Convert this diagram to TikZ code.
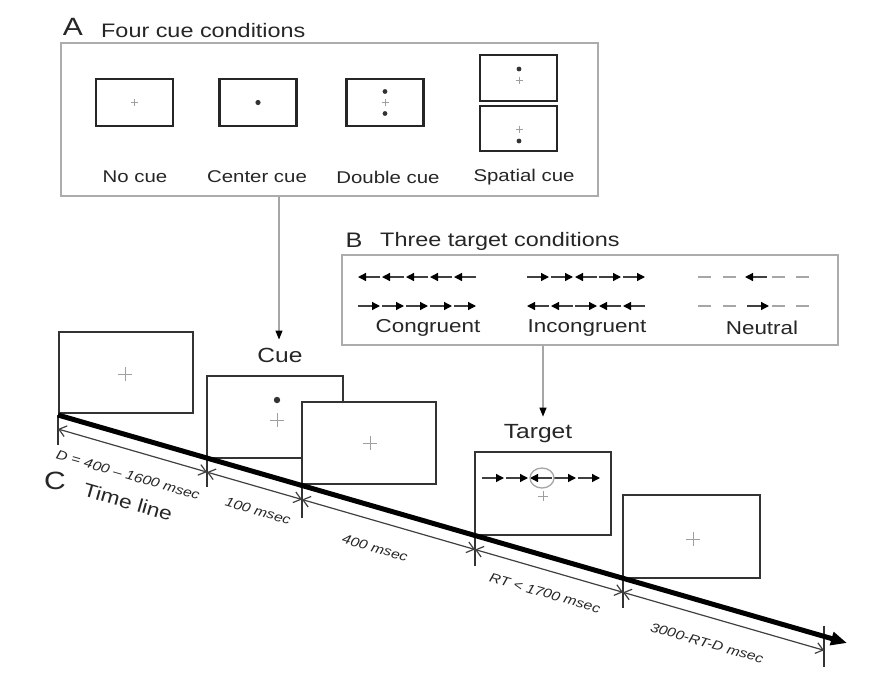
\documentclass[tikz,border=0pt]{standalone}
\usepackage{fontspec}
\setmainfont{Liberation Sans}[FakeStretch=1.2]
\usetikzlibrary{arrows.meta,calc}
\newcommand\myfs[1]{\fontsize{#1}{#1}\selectfont}
\newcommand\flR[2]{\draw[flk] (#1,#2) -- ++(22,0);}
\newcommand\flL[2]{\draw[flk] (#1+22,#2) -- ++(-22,0);}
\newcommand\flD[2]{\draw[dsh] (#1,#2) -- ++(13,0);}
\newcommand\plusat[2]{\draw[crs] (#1) +(-#2,0) -- +(#2,0) +(0,-#2) -- +(0,#2);}
\begin{document}
\begin{tikzpicture}[x=1pt,y=-1pt,
  lbl/.style={inner sep=0pt, text=black!85},
  boxst/.style={draw=gray!65, line width=1.4pt, inner sep=0pt},
  mini/.style={draw=black!85, line width=2.2pt, inner sep=0pt, minimum width=77pt},
  frm/.style={draw=black!80, line width=1.8pt, fill=white, inner sep=0pt},
  crs/.style={draw=gray!75, line width=0.9pt},
  flk/.style={draw=black!75, line width=1.3pt, -{Triangle[length=8pt,width=8pt,color=black]}},
  dsh/.style={draw=gray!70, line width=1.8pt},
  conn/.style={draw=gray!70, line width=1.2pt, -{Triangle[length=9pt,width=7pt,color=black]}},
  tl/.style={draw=black, line width=5pt, -{Triangle[length=16pt,width=13pt]}},
  tick/.style={draw=black!80, line width=1.6pt},
  dim/.style={draw=black!75, line width=1.2pt, {Straight Barb[length=7pt,width=11pt]}-{Straight Barb[length=7pt,width=11pt]}},
  dlab/.style={lbl, font=\myfs{13}\itshape, rotate=-16.12}
]
\useasboundingbox (0,0) rectangle (894,673);
\fill[white] (0,0) rectangle (894,673);

% ---------------- Panel A
\node[lbl, font=\myfs{25}] (Alet) at (73,27) {A};
\node[lbl, font=\myfs{19.5}, anchor=west] (Atit) at (101,31) {Four cue conditions};
\node[boxst, minimum width=537pt, minimum height=153pt] (boxA) at (329.5,119.5) {};
\node[mini, minimum height=47pt] (nocue) at (134.5,102.5) {};
\node[mini, minimum height=47pt] (ccue) at (258,102.5) {};
\node[mini, minimum height=47pt] (dcue) at (385,102.5) {};
\node[mini, minimum height=46pt] (scueA) at (518.5,78) {};
\node[mini, minimum height=45pt] (scueB) at (518.5,128.5) {};
\plusat{nocue.center}{3.5}
\fill[black!80] (ccue.center) circle (2.6pt);
\plusat{dcue.center}{3.5}
\fill[black!80] ($(dcue.center)+(0,-11)$) circle (2.4pt);
\fill[black!80] ($(dcue.center)+(0,11)$) circle (2.4pt);
\fill[black!80] (519,69) circle (2.4pt);
\plusat{519,80}{3.5}
\plusat{519,129}{3.5}
\fill[black!80] (519,141) circle (2.4pt);
\node[lbl, font=\myfs{17}] (lnocue) at (135,177) {No cue};
\node[lbl, font=\myfs{17}] (lccue) at (257,177) {Center cue};
\node[lbl, font=\myfs{17}] (ldcue) at (388,177) {Double cue};
\node[lbl, font=\myfs{17}] (lscue) at (524,177) {Spatial cue};

% ---------------- Panel B
\node[lbl, font=\myfs{21}] (Blet) at (354,240) {B};
\node[lbl, font=\myfs{19.5}, anchor=west] (Btit) at (380,241) {Three target conditions};
\node[boxst, minimum width=496pt, minimum height=90pt] (boxB) at (590,300) {};
\foreach \i in {0,...,4} {\flL{358+24*\i}{277}}
\foreach \i in {0,...,4} {\flR{358+24*\i}{306}}
\flR{527}{277}\flR{551}{277}\flL{575}{277}\flR{599}{277}\flR{623}{277}
\flL{527}{306}\flL{551}{306}\flR{575}{306}\flL{599}{306}\flL{623}{306}
\flD{698}{277}\flD{722.5}{277}\flL{745}{277}\flD{771.5}{277}\flD{796}{277}
\flD{698}{306}\flD{722.5}{306}\flR{747}{306}\flD{771.5}{306}\flD{796}{306}
\node[lbl, font=\myfs{18.7}] (lcong) at (428,328) {Congruent};
\node[lbl, font=\myfs{18.7}] (lincong) at (587,328) {Incongruent};
\node[lbl, font=\myfs{18.7}] (lneut) at (762,328) {Neutral};

% ---------------- Panel C: frames
\node[frm, minimum width=134pt, minimum height=81pt] (f1) at (126,372.5) {};
\node[frm, minimum width=136pt, minimum height=82pt] (cuef) at (275,417) {};
\node[frm, minimum width=134pt, minimum height=82pt] (f3) at (369,443) {};
\node[frm, minimum width=136pt, minimum height=83pt] (tgtf) at (543,493.5) {};
\node[frm, minimum width=137pt, minimum height=83pt] (f5) at (691.5,536.5) {};
\plusat{125,374}{7}
\fill[black!80] (277,400) circle (3.2pt);
\plusat{277,420}{7}
\plusat{370,443}{7}
\plusat{543,496}{5}
\plusat{693,539}{7}
\flR{482}{478}\flR{506}{478}\flL{530}{478}\flR{554}{478}\flR{578}{478}
\draw[draw=gray!70, line width=1.3pt] (542,478) ellipse (12pt and 10pt);

\node[lbl, font=\myfs{20.5}] (cuelbl) at (280,355) {Cue};
\node[lbl, font=\myfs{20.5}] (tgtlbl) at (538,434) {Target};

% connectors from panels
\coordinate (cuein) at ([xshift=-1pt,yshift=8pt]cuelbl.north);
\coordinate (tgtin) at ([xshift=5pt,yshift=8pt]tgtlbl.north);
\draw[conn] (boxA.south -| cuein) -- (cuein);
\draw[conn] (boxB.south -| tgtin) -- (tgtin);

% ---------------- time line
\coordinate (p0) at (58,415);
\coordinate (p1) at (207,458.1);
\coordinate (p2) at (302,485.5);
\coordinate (p3) at (475,535.5);
\coordinate (p4) at (623,578.3);
\coordinate (p5) at (824,636.3);
\coordinate (pend) at (847,643);
\draw[tick] (p0) -- ++(0,30);
\draw[tick] (p1) -- ++(0,29);
\draw[tick] (p2) -- ++(0,32);
\draw[tick] (p3) -- ++(0,30);
\draw[tick] (p4) -- ++(0,30);
\draw[tick] ([yshift=10pt]p5) -- ++(0,41);
\draw[tl] (p0) -- (pend);
\draw[dim] ([yshift=-14pt]p0) -- ([yshift=-14pt]p1);
\draw[dim] ([yshift=-14pt]p1) -- ([yshift=-14pt]p2);
\draw[dim] ([yshift=-14pt]p2) -- ([yshift=-14pt]p3);
\draw[dim] ([yshift=-14pt]p3) -- ([yshift=-14pt]p4);
\draw[dim] ([yshift=-14pt]p4) -- ([yshift=-14pt]p5);

\node[dlab] (d1) at (128,475) {D = 400 – 1600 msec};
\node[dlab] (d2) at (258,511) {100 msec};
\node[dlab] (d3) at (375,548) {400 msec};
\node[dlab] (d4) at (545,593) {RT < 1700 msec};
\node[dlab] (d5) at (707,643) {3000-RT-D msec};
\node[lbl, font=\myfs{25}] (Clet) at (55,481) {C};
\node[lbl, font=\myfs{19}, rotate=-16.12] (tlbl) at (128,502) {Time line};
\end{tikzpicture}
\end{document}
